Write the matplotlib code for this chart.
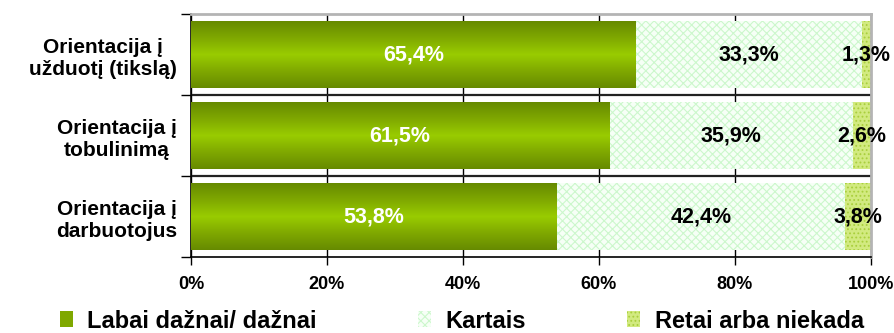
import numpy as np
import matplotlib
matplotlib.use("Agg")
import matplotlib.pyplot as plt
from matplotlib.colors import LinearSegmentedColormap
from matplotlib.patches import Patch

plt.rcParams['font.family'] = ['Liberation Sans', 'DejaVu Sans']
plt.rcParams['font.weight'] = 'bold'
plt.rcParams['hatch.linewidth'] = 0.8

# Survey shares per orientation (percent)
categories = ["Orientacija į\nužduotį (tikslą)", "Orientacija į\ntobulinimą", "Orientacija į\ndarbuotojus"]
often = [65.4, 61.5, 53.8]
sometimes = [33.3, 35.9, 42.4]
rarely = [1.3, 2.6, 3.8]
series_names = ["Labai dažnai/ dažnai", "Kartais", "Retai arba niekada"]
xticks = [0, 20, 40, 60, 80, 100]
xtick_labels = ["0%", "20%", "40%", "60%", "80%", "100%"]


def fmt(v):
    return f"{v:.1f}%".replace(".", ",")


fig = plt.figure(figsize=(8.95, 3.33), dpi=100)
ax = fig.add_axes([191 / 895, 1 - 257 / 333, 680 / 895, 243 / 333])

y = np.arange(len(categories))
h = 0.82
bounds = np.arange(len(categories) + 1) - 0.5

ax.set_xlim(0, 100)
ax.set_ylim(len(categories) - 0.5, -0.5)

# separators between categories
ax.hlines(bounds[1:-1], 0, 100, colors="#222222", linewidth=1.6, zorder=1.5)

b1 = ax.barh(y, often, height=h, color="#88b400", linewidth=0, zorder=2)
b2 = ax.barh(y, sometimes, left=often, height=h, facecolor="#f6fff6",
             edgecolor="#ccf7cc", hatch="xxxx", linewidth=0, zorder=2)
left3 = np.array(often) + np.array(sometimes)
b3 = ax.barh(y, rarely, left=left3, height=h, facecolor="#d2ea80",
             edgecolor="#a9cf3c", hatch="....", linewidth=0, zorder=2)

# vertical shading on the main bars: dark olive edges, bright centre
cmap = LinearSegmentedColormap.from_list(
    "olive", ["#668a00", "#7fa800", "#99cc00", "#7fa800", "#668a00"])
grad = np.linspace(0, 1, 256).reshape(-1, 1)
for p in b1.patches:
    x0, y0 = p.get_x(), p.get_y()
    im = ax.imshow(grad, cmap=cmap, aspect="auto", zorder=3,
                   extent=(x0, x0 + p.get_width(), y0, y0 + p.get_height()),
                   origin="lower", interpolation="bilinear")
    im.set_clip_path(p)

for i in range(len(categories)):
    ax.text(often[i] / 2, y[i], fmt(often[i]), ha="center", va="center",
            color="white", fontsize=15.5, fontweight="bold", zorder=5)
    ax.text(often[i] + sometimes[i] / 2, y[i], fmt(sometimes[i]), ha="center",
            va="center", color="black", fontsize=15.5, fontweight="bold", zorder=5)
    ax.text(left3[i] + rarely[i] / 2, y[i], fmt(rarely[i]), ha="center",
            va="center", color="black", fontsize=15.5, fontweight="bold", zorder=5)

ax.set_xlim(0, 100)
ax.set_ylim(len(categories) - 0.5, -0.5)
ax.set_xticks(xticks)
ax.set_xticklabels(xtick_labels, fontsize=13, fontweight="bold")
ax.set_yticks(y)
ax.set_yticklabels(categories, fontsize=15, fontweight="bold",
                   multialignment="center")
ax.set_yticks(bounds, minor=True)
ax.tick_params(axis="y", which="major", length=0, pad=10)
ax.tick_params(axis="y", which="minor", length=7, width=1, direction="out")
ax.tick_params(axis="x", length=6, width=1, direction="out", pad=8)

ax.grid(axis="x", color="black", linewidth=1)
ax.set_axisbelow(True)

for s in ["left", "bottom"]:
    ax.spines[s].set_color("black")
    ax.spines[s].set_linewidth(1.2)
for s in ["top", "right"]:
    ax.spines[s].set_color("#b4b4b4")
    ax.spines[s].set_linewidth(2)

handles = [Patch(facecolor="#7fa800", edgecolor="none"),
           Patch(facecolor="#f6fff6", edgecolor="#ccf7cc", hatch="xxxx", linewidth=0),
           Patch(facecolor="#d2ea80", edgecolor="#a9cf3c", hatch="....", linewidth=0)]
fig.legend(handles, series_names, loc="center left", bbox_to_anchor=(60 / 895, 12 / 333),
           ncol=3, frameon=False, prop={"size": 17, "weight": "bold"},
           handlelength=0.55, handleheight=0.65, handletextpad=0.6, columnspacing=4.3,
           borderpad=0, borderaxespad=0)

fig.savefig("out.png", dpi=100)
